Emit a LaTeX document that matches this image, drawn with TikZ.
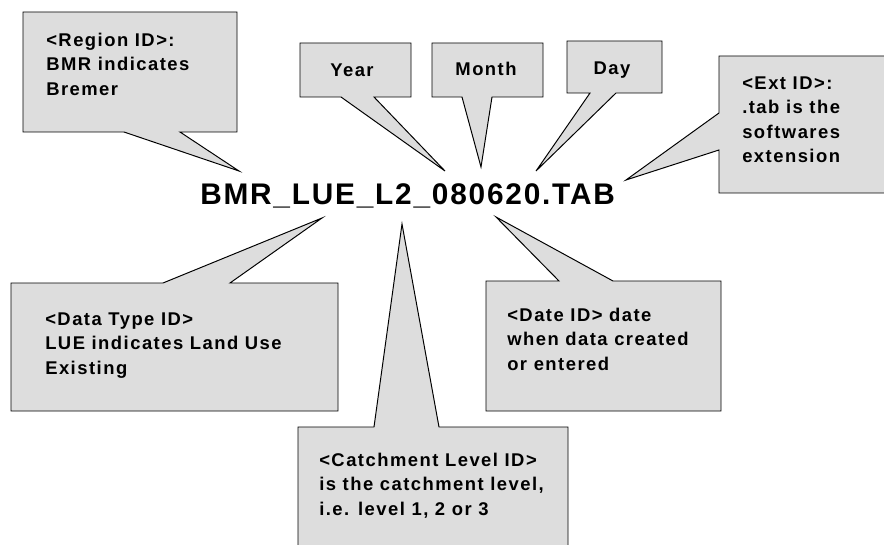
\documentclass[tikz,border=0pt]{standalone}
\usepackage{fontspec}
\setmainfont{Liberation Sans}
\newfontfamily\labelfont[LetterSpace=8]{Liberation Sans}
\newfontfamily\namefont[LetterSpace=6]{Liberation Sans}
\definecolor{calloutgray}{RGB}{221,221,221}
\begin{document}
\begin{tikzpicture}[x=0.025cm,y=-0.025cm,
  idbox/.style={fill=calloutgray,draw=black,line width=0.7pt},
  idtext/.style={font=\labelfont\bfseries\fontsize{13.1}{17.4}\selectfont,align=left,anchor=north west,inner sep=0pt}]
\useasboundingbox (0,0) rectangle (884,545);
\clip (0,0) rectangle (884,545);
\node[font=\namefont\bfseries\fontsize{21.2}{25}\selectfont,anchor=base west,inner sep=0pt] (fname) at (200,204) {BMR\_LUE\_L2\_080620.TAB};
\coordinate (regtip) at (239,171);
\coordinate (yeartip) at (445,171);
\coordinate (monthtip) at (481,167);
\coordinate (daytip) at (536,171);
\coordinate (exttip) at (626,180);
\coordinate (typetip) at (322,218);
\coordinate (leveltip) at (402,224);
\coordinate (datetip) at (496,217);
\draw[idbox] (23,12) -- (237,12) -- (237,132) -- (180,132) -- (regtip) -- (124,132) -- (23,132) -- cycle;
\draw[idbox] (300,43) -- (411,43) -- (411,97) -- (374,97) -- (yeartip) -- (341,97) -- (300,97) -- cycle;
\draw[idbox] (432,43) -- (543,43) -- (543,97) -- (492,97) -- (monthtip) -- (462,97) -- (432,97) -- cycle;
\draw[idbox] (567,41) -- (662,41) -- (662,93) -- (616,93) -- (daytip) -- (590,93) -- (567,93) -- cycle;
\draw[idbox] (719,56) -- (900,56) -- (900,193) -- (719,193) -- (719,150) -- (exttip) -- (719,113) -- cycle;
\draw[idbox] (11,283) -- (163,283) -- (typetip) -- (230,283) -- (338,283) -- (338,411) -- (11,411) -- cycle;
\draw[idbox] (298,427) -- (374,427) -- (leveltip) -- (439,427) -- (568,427) -- (568,560) -- (298,560) -- cycle;
\draw[idbox] (486,281) -- (559,281) -- (datetip) -- (613,281) -- (721,281) -- (721,411) -- (486,411) -- cycle;
\node[idtext] (region) at (46,32.5) {<Region ID>:\\BMR indicates\\Bremer};
\node[idtext,anchor=base] (year) at (352,76.3) {Year};
\node[idtext,anchor=base] (month) at (486,75.3) {Month};
\node[idtext,anchor=base] (day) at (612,74.3) {Day};
\node[idtext] (ext) at (742,76.5) {<Ext ID>:\\.tab is the\\softwares\\extension};
\node[idtext] (type) at (45,312.5) {<Data Type ID>\\LUE indicates Land Use\\Existing};
\node[idtext] (level) at (319,452.5) {<Catchment Level ID>\\is the catchment level,\\i.e. level 1, 2 or 3};
\node[idtext] (date) at (507,307.5) {<Date ID> date\\when data created\\or entered};
\end{tikzpicture}
\end{document}
